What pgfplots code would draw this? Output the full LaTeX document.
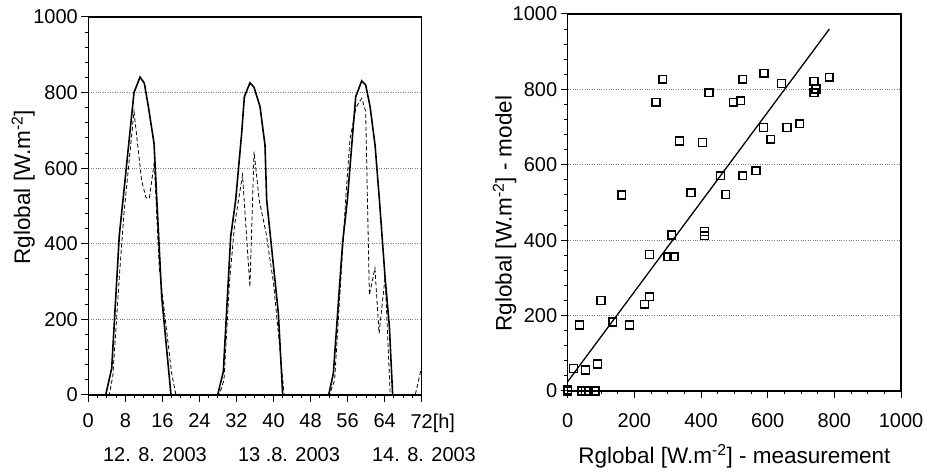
\documentclass[border=0pt]{standalone}
\usepackage{fontspec}
\setmainfont{Liberation Sans}
\usepackage{pgfplots}
\pgfplotsset{compat=1.18}

\pgfplotsset{
  rg/.style={
    scale only axis,
    axis line style={line width=1.4pt},
    tick style={black, line width=1pt},
    tick align=outside,
    major tick length=7pt,
    minor tick length=3.5pt,
    xtick pos=bottom, ytick pos=left,
    ymin=0, ymax=1000,
    ytick={0,200,...,1000},
    minor y tick num=4,
    ymajorgrids,
    grid style={gray, dotted, line width=0.8pt},
    tick label style={font=\fontsize{20}{24}\selectfont},
    label style={font=\fontsize{22.5}{27}\selectfont},
    /pgf/number format/assume math mode=true,
    /pgf/number format/1000 sep={},
    clip=false,
  }
}

\begin{document}
\begin{tikzpicture}[x=1pt,y=1pt]
\useasboundingbox (0,0) rectangle (934,473);

% left: time series
\begin{axis}[rg,
  at={(88.3pt,78pt)}, anchor=south west,
  width=333.4pt, height=378pt,
  xmin=0, xmax=72,
  xtick={0,8,...,72}, minor x tick num=3,
  xticklabels={0,8,16,24,32,40,48,56,64,{72\rlap{[h]}}},
  xticklabel style={yshift=-8pt},
  ylabel={Rglobal [W.m\textsuperscript{-2}]},
  ylabel style={at={(rel axis cs:0,0.55)}, anchor=south, yshift=50pt},
]
\addplot[black, line width=1.6pt] coordinates {
 (0,0) (3.75,0) (5.05,70) (6.7,423) (7.57,525) (9.87,800) (11.17,841)
 (12.1,825) (12.97,763) (14.19,666) (14.8,516) (15.85,260) (17.86,0)
 (27.94,0) (29.16,62) (30.75,419) (31.83,516) (33.12,692) (33.7,789)
 (34.92,826) (35.79,814) (37.08,763) (38.16,661) (38.52,516) (41.04,217) (41.98,0)
 (51.91,0) (52.92,57) (54.94,405) (55.95,516) (57.1,692) (57.75,789)
 (59.05,831) (59.91,820) (60.85,763) (61.93,661) (62.87,516) (64.08,313)
 (65.02,181) (65.73,0) (72,0)
};
\addplot[black, line width=0.8pt, dash pattern=on 4pt off 2.5pt] coordinates {
 (0,0) (4.5,0) (5.3,50) (6.8,330) (7.7,480) (9.87,750) (11.5,569) (12.46,522)
 (13.18,520) (14.26,617) (14.62,516) (15.3,340) (16.56,207) (18,57) (18.93,0)
 (28.3,0) (29.3,40) (30.5,300) (31.6,450) (33.3,582) (34.9,286) (35.8,644)
 (36.9,516) (38.4,428) (40,296) (41,170) (42.3,0)
 (52.1,0) (53.2,40) (54.5,300) (55.6,520) (56.5,675) (57.8,760) (59.05,785)
 (59.9,750) (60.7,265) (61.9,335) (62.8,163) (64.1,313) (65.2,0)
 (70.6,0) (72,75)
};
\end{axis}

% right: model vs measurement
\begin{axis}[rg,
  at={(567.7pt,82pt)}, anchor=south west,
  width=333.3pt, height=377pt,
  xmin=0, xmax=1000,
  xtick={0,200,...,1000}, minor x tick num=3,
  xticklabel style={yshift=-12pt},
  xlabel={Rglobal [W.m\textsuperscript{-2}] - measurement},
  xlabel style={yshift=-10pt},
  ylabel={Rglobal [W.m\textsuperscript{-2}] - model},
  ylabel style={at={(rel axis cs:0,0.47)}, anchor=south, yshift=48pt},
]
\addplot[only marks, mark=square, mark size=3.9pt, mark options={black, line width=1.5pt}] coordinates {
 (162,520) (265,766) (285,827) (335,663) (370,526) (404,659) (424,791)
 (458,571) (474,521) (497,766) (519,770) (525,827) (525,571) (565,584)
 (587,699) (589,843) (609,668) (641,816) (658,699) (696,709) (739,821)
 (739,791) (745,801) (785,832) (312,414) (410,423) (410,412) (245,362)
 (300,356) (319,356) (245,250) (230,230) (100,240) (135,183) (35,175)
 (185,175) (17,60) (53,56) (89,72) (0,0) (0,3) (42,0) (53,0) (62,0) (82,0)
};
\addplot[black, line width=1.3pt] coordinates {(0,25) (785,960)};
\end{axis}

\node[font=\fontsize{20}{24}\selectfont] at (155,18) {12. 8. 2003};
\node[font=\fontsize{20}{24}\selectfont] at (289,18) {13 .8. 2003};
\node[font=\fontsize{20}{24}\selectfont] at (424,18) {14. 8. 2003};
\end{tikzpicture}
\end{document}
